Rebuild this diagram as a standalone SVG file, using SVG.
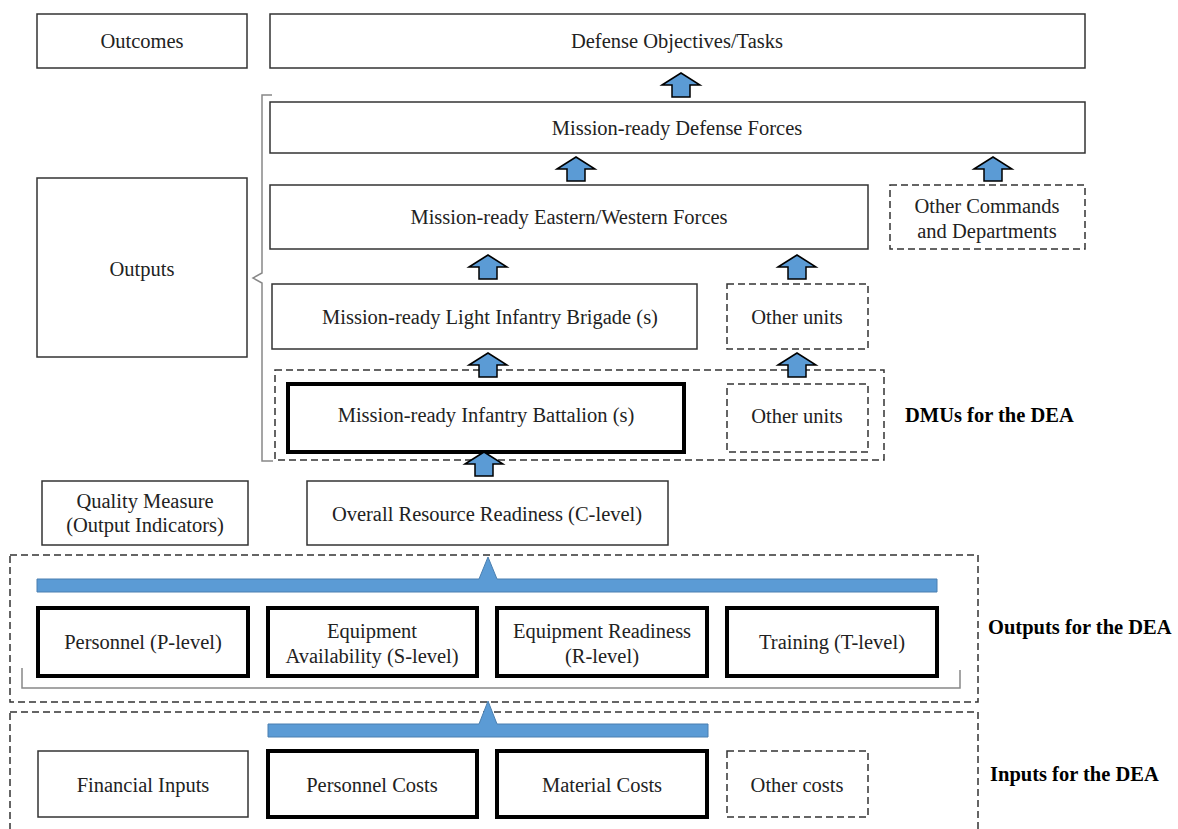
<svg xmlns="http://www.w3.org/2000/svg" width="1178" height="829" viewBox="0 0 1178 829">
<style>
.b{fill:#fff;stroke:#333;stroke-width:1.5}
.t{fill:#fff;stroke:#000;stroke-width:4}
.d{fill:#fff;stroke:#333;stroke-width:1.5;stroke-dasharray:7 4}
.dr{fill:none;stroke:#333;stroke-width:1.5;stroke-dasharray:7 4}
.br{fill:none;stroke:#888;stroke-width:1.5}
text{font-family:"Liberation Serif","Times New Roman",serif;font-size:20.5px;fill:#222;text-anchor:middle;dominant-baseline:central}
.lb{font-weight:bold;text-anchor:start;fill:#000}
.bar{fill:#5b9bd5;stroke:#4a7fb0;stroke-width:1}
</style>
<defs>
<path id="ar" d="M-19,12 L0,0 L19,12 L9,12 L9,24 L-9,24 L-9,12 Z" fill="#5b9bd5" stroke="#000" stroke-width="1.5"/>
</defs>
<g id="regions">
<rect class="dr" x="275" y="370" width="609" height="90"/>
<rect class="dr" x="10" y="555" width="968" height="147"/>
<rect class="dr" x="10" y="712" width="968" height="125"/>
<path class="br" d="M272,95 H262 V273 L253,278 L262,283 V461 H273"/>
<path class="br" d="M22,668 V688 H960 V670"/>
</g>
<g id="n-outcomes"><rect class="b" x="37" y="14" width="210" height="54"/><text x="142" y="41">Outcomes</text></g>
<g id="n-objectives"><rect class="b" x="270" y="14" width="815" height="54"/><text x="677" y="41">Defense Objectives/Tasks</text></g>
<g id="n-defense"><rect class="b" x="270" y="102" width="815" height="51"/><text x="677" y="128">Mission-ready Defense Forces</text></g>
<g id="n-eastwest"><rect class="b" x="270" y="185" width="598" height="64"/><text x="569" y="217">Mission-ready Eastern/Western Forces</text></g>
<g id="n-othercmd"><rect class="d" x="890" y="185" width="195" height="64"/><text x="987" y="206">Other Commands</text><text x="987" y="231">and Departments</text></g>
<g id="n-outputs"><rect class="b" x="37" y="178" width="210" height="179"/><text x="142" y="269">Outputs</text></g>
<g id="n-brigade"><rect class="b" x="272" y="284" width="425" height="65"/><text x="490" y="317">Mission-ready Light Infantry Brigade (s)</text></g>
<g id="n-otherunits1"><rect class="d" x="727" y="284" width="141" height="65"/><text x="797" y="317">Other units</text></g>
<g id="n-battalion"><rect class="t" x="288" y="384" width="396" height="68"/><text x="486" y="415">Mission-ready Infantry Battalion (s)</text></g>
<g id="n-otherunits2"><rect class="d" x="727" y="384" width="141" height="68"/><text x="797" y="416">Other units</text></g>
<g id="n-quality"><rect class="b" x="42" y="481" width="206" height="64"/><text x="145" y="501">Quality Measure</text><text x="145" y="525">(Output Indicators)</text></g>
<g id="n-overall"><rect class="b" x="307" y="481" width="361" height="64"/><text x="487" y="514">Overall  Resource Readiness (C-level)</text></g>
<g id="n-personnel"><rect class="t" x="38" y="608" width="210" height="68"/><text x="143" y="642">Personnel (P-level)</text></g>
<g id="n-equipavail"><rect class="t" x="268" y="608" width="209" height="68"/><text x="372" y="631">Equipment</text><text x="372" y="656">Availability  (S-level)</text></g>
<g id="n-equipready"><rect class="t" x="497" y="608" width="210" height="68"/><text x="602" y="631">Equipment Readiness</text><text x="602" y="656">(R-level)</text></g>
<g id="n-training"><rect class="t" x="727" y="608" width="210" height="68"/><text x="832" y="642">Training  (T-level)</text></g>
<g id="n-financial"><rect class="b" x="38" y="751" width="210" height="66"/><text x="143" y="785">Financial Inputs</text></g>
<g id="n-perscost"><rect class="t" x="268" y="751" width="209" height="66"/><text x="372" y="785">Personnel Costs</text></g>
<g id="n-matcost"><rect class="t" x="497" y="751" width="210" height="66"/><text x="602" y="785">Material Costs</text></g>
<g id="n-othercost"><rect class="d" x="727" y="751" width="141" height="66"/><text x="797" y="785">Other costs</text></g>
<g id="labels">
<text class="lb" x="905" y="415">DMUs for the DEA</text>
<text class="lb" x="988" y="627">Outputs for the DEA</text>
<text class="lb" x="990" y="774">Inputs for the DEA</text>
</g>
<g id="connectors">
<use href="#ar" x="681" y="73"/>
<use href="#ar" x="576" y="157"/>
<use href="#ar" x="993" y="157"/>
<use href="#ar" x="488" y="255"/>
<use href="#ar" x="797" y="255"/>
<use href="#ar" x="488" y="353"/>
<use href="#ar" x="797" y="353"/>
<use href="#ar" x="484" y="452"/>
<path class="bar" d="M37,579 H479 L488,557 L497,579 H937 V592 H37 Z"/>
<path class="bar" d="M268,724 H479 L488,701 L497,724 H708 V737 H268 Z"/>
</g>
</svg>
